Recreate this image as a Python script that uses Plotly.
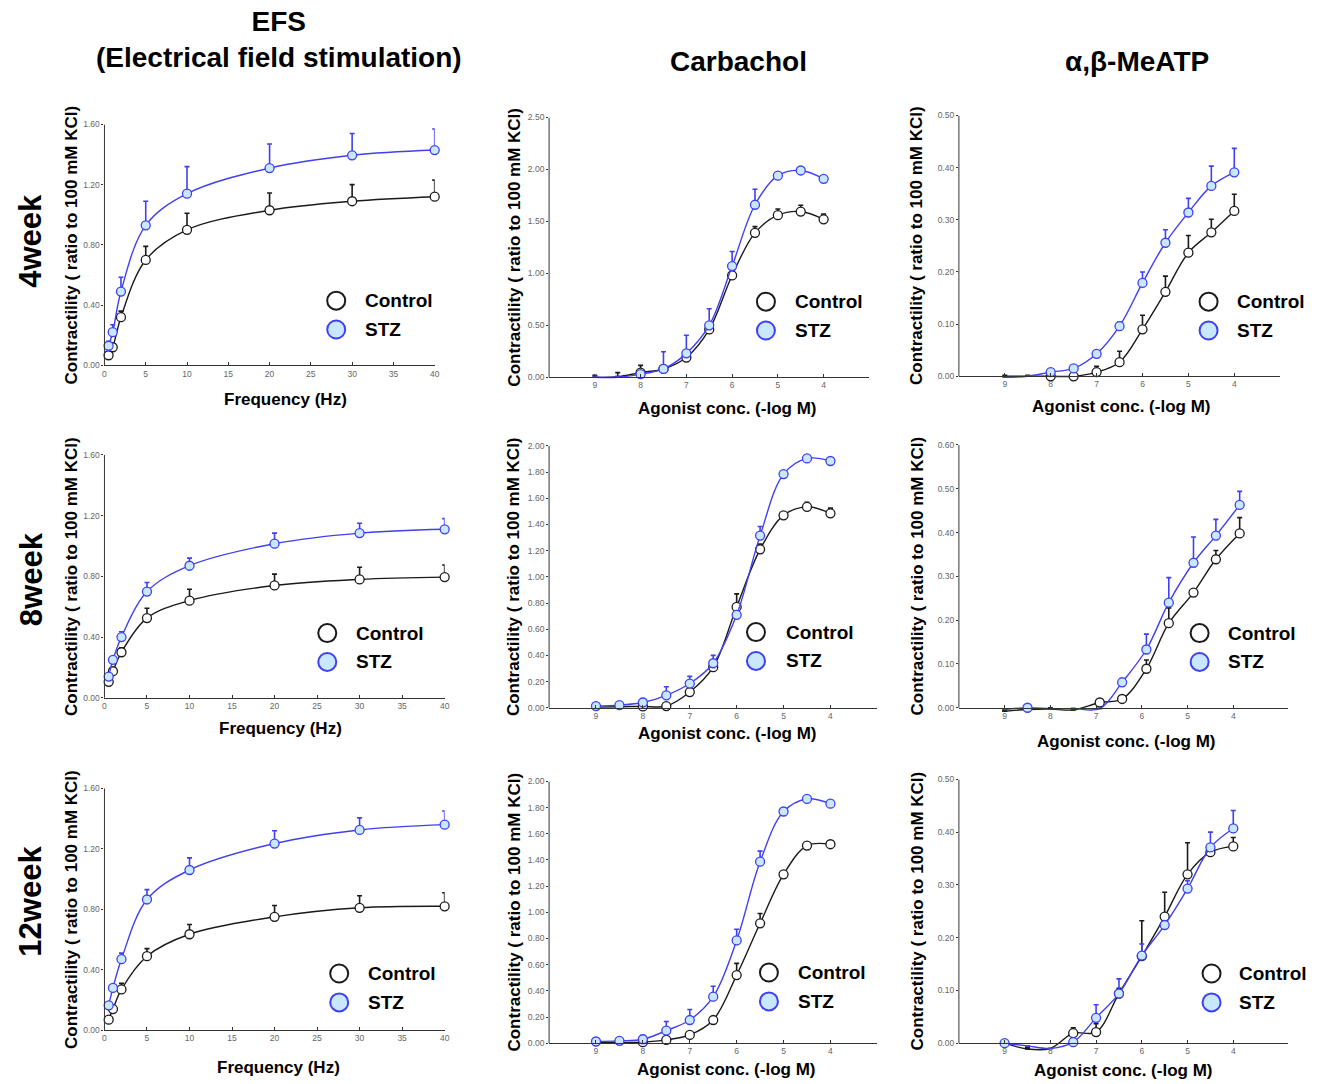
import plotly.graph_objects as go

W, H = 1320, 1084

# ---------------- data ----------------
efs_freq = [0.5, 1, 2, 5, 10, 20, 30, 40]
conc = [9, 8.5, 8, 7.5, 7, 6.5, 6, 5.5, 5, 4.5, 4]
conc_meatp_8w = [9, 8.5, 8, 7.5, 6.92, 6.43, 5.9, 5.41, 4.87, 4.38, 3.86]

efs_tick_vals = [0, 5, 10, 15, 20, 25, 30, 35, 40]
conc_tick_vals = [9, 8, 7, 6, 5, 4]

efs_4w_ctrl = [0.067, 0.12, 0.32, 0.70, 0.90, 1.03, 1.09, 1.12]
efs_4w_ctrl_err = [0.01, 0.02, 0.04, 0.09, 0.11, 0.115, 0.11, 0.11]
efs_4w_stz = [0.13, 0.22, 0.49, 0.93, 1.14, 1.31, 1.395, 1.43]
efs_4w_stz_err = [0.03, 0.05, 0.095, 0.16, 0.18, 0.16, 0.145, 0.14]

efs_8w_ctrl = [0.105, 0.175, 0.30, 0.525, 0.64, 0.74, 0.78, 0.795]
efs_8w_ctrl_err = [0.01, 0.02, 0.03, 0.065, 0.075, 0.075, 0.08, 0.08]
efs_8w_stz = [0.14, 0.25, 0.40, 0.70, 0.87, 1.015, 1.085, 1.11]
efs_8w_stz_err = [0.01, 0.02, 0.035, 0.06, 0.05, 0.07, 0.065, 0.07]

efs_12w_ctrl = [0.07, 0.14, 0.27, 0.49, 0.635, 0.75, 0.81, 0.82]
efs_12w_ctrl_err = [0.01, 0.02, 0.04, 0.05, 0.065, 0.075, 0.08, 0.09]
efs_12w_stz = [0.165, 0.28, 0.47, 0.865, 1.06, 1.235, 1.325, 1.36]
efs_12w_stz_err = [0.01, 0.02, 0.04, 0.065, 0.08, 0.085, 0.08, 0.09]

cch_4w_ctrl = [0.0, 0.005, 0.045, 0.08, 0.19, 0.46, 0.98, 1.39, 1.56, 1.595, 1.52]
cch_4w_ctrl_err = [0.02, 0.04, 0.07, 0.0, 0.01, 0.02, 0.03, 0.06, 0.06, 0.06, 0.05]
cch_4w_stz = [0.0, 0.0, 0.03, 0.08, 0.23, 0.50, 1.07, 1.66, 1.94, 1.99, 1.91]
cch_4w_stz_err = [0.01, 0.01, 0.02, 0.165, 0.175, 0.16, 0.14, 0.15, 0.0, 0.0, 0.0]

cch_8w_ctrl = [0.005, 0.008, 0.01, 0.013, 0.12, 0.31, 0.77, 1.21, 1.47, 1.535, 1.485]
cch_8w_ctrl_err = [0, 0, 0.01, 0.01, 0.01, 0.02, 0.10, 0.04, 0.02, 0.035, 0.04]
cch_8w_stz = [0.013, 0.02, 0.04, 0.095, 0.185, 0.34, 0.71, 1.315, 1.785, 1.905, 1.885]
cch_8w_stz_err = [0, 0, 0.03, 0.065, 0.055, 0.06, 0.0, 0.07, 0, 0, 0]

cch_12w_ctrl = [0.005, 0.006, 0.008, 0.025, 0.063, 0.177, 0.52, 0.916, 1.29, 1.51, 1.52]
cch_12w_ctrl_err = [0, 0, 0, 0, 0.01, 0.01, 0.09, 0.075, 0.01, 0.01, 0.01]
cch_12w_stz = [0.013, 0.018, 0.03, 0.096, 0.177, 0.355, 0.785, 1.387, 1.77, 1.866, 1.83]
cch_12w_stz_err = [0, 0, 0.03, 0.07, 0.08, 0.08, 0.085, 0.08, 0, 0, 0]

meatp_4w_ctrl = [0.0, 0.0, 0.0, 0.0, 0.008, 0.027, 0.09, 0.162, 0.237, 0.276, 0.317]
meatp_4w_ctrl_err = [0.002, 0.002, 0.0, 0.0, 0.011, 0.021, 0.027, 0.03, 0.033, 0.025, 0.032]
meatp_4w_stz = [-0.002, 0.0, 0.008, 0.015, 0.043, 0.096, 0.179, 0.256, 0.314, 0.365, 0.391]
meatp_4w_stz_err = [0, 0, 0, 0, 0, 0.008, 0.021, 0.025, 0.027, 0.038, 0.046]

meatp_8w_ctrl = [-0.008, -0.004, -0.003, -0.005, 0.012, 0.02, 0.089, 0.193, 0.263, 0.339, 0.398]
meatp_8w_ctrl_err = [0.003, 0.003, 0.003, 0.003, 0, 0, 0.02, 0.035, 0, 0.02, 0.036]
meatp_8w_stz = [-0.004, 0.0, -0.002, -0.002, -0.002, 0.058, 0.133, 0.24, 0.331, 0.393, 0.463]
meatp_8w_stz_err = [0, 0, 0, 0, 0, 0.009, 0.035, 0.057, 0.059, 0.037, 0.031]

meatp_12w_ctrl = [0.0, -0.011, -0.01, 0.019, 0.021, 0.094, 0.165, 0.24, 0.32, 0.362, 0.373]
meatp_12w_ctrl_err = [0, 0.003, 0, 0.01, 0.016, 0.01, 0.067, 0.046, 0.06, 0.01, 0.017]
meatp_12w_stz = [0.0, -0.005, -0.01, 0.002, 0.048, 0.094, 0.166, 0.224, 0.293, 0.371, 0.407]
meatp_12w_stz_err = [0, 0, 0, 0, 0.025, 0.028, 0.022, 0, 0.015, 0.029, 0.034]

col_titles = ["EFS<br>(Electrical field stimulation)", "Carbachol", "α,β-MeATP"]
row_titles = ["4week", "8week", "12week"]
y_title = "Contractility ( ratio to 100 mM KCl)"
x_titles = ["Frequency (Hz)", "Agonist conc. (-log M)", "Agonist conc. (-log M)"]
legend_names = ["Control", "STZ"]

# ---------------- layout geometry (pixels) ----------------
geom = [
    (103, 435, 120, 362, [0, 40], [0, 1.6], 0.4, (285, 396), (336, 297), 363),
    (550, 872, 113, 374, [10, 3], [0, 2.5], 0.5, (729, 405), (768, 298), 795),
    (962, 1285, 111, 373, [10, 3], [0, 0.5], 0.1, (1125, 403), (1213, 298), 1240),
    (103, 445, 452, 696, [0, 40], [0, 1.6], 0.4, (280, 727), (327, 631), 354),
    (550, 880, 443, 706, [10, 3], [0, 2.0], 0.2, (729, 732), (758, 630), 786),
    (962, 1293, 442, 706, [10, 2.8], [0, 0.6], 0.1, (1130, 740), (1204, 631), 1231),
    (103, 445, 787, 1030, [0, 40], [0, 1.6], 0.4, (278, 1067), (339, 973), 366),
    (550, 880, 780, 1043, [10, 3], [0, 2.0], 0.2, (728, 1069), (771, 972), 798),
    (962, 1293, 778, 1043, [10, 2.8], [0, 0.5], 0.1, (1127, 1070), (1216, 973), 1242),
]
PAD = 9  # px of room below the zero line so dipping curves stay visible

panel_data = [
    (efs_freq, efs_4w_ctrl, efs_4w_ctrl_err, efs_4w_stz, efs_4w_stz_err, [], []),
    (conc, cch_4w_ctrl, cch_4w_ctrl_err, cch_4w_stz, cch_4w_stz_err, [0, 1], [0, 1]),
    (conc, meatp_4w_ctrl, meatp_4w_ctrl_err, meatp_4w_stz, meatp_4w_stz_err, [0, 1], [0, 1]),
    (efs_freq, efs_8w_ctrl, efs_8w_ctrl_err, efs_8w_stz, efs_8w_stz_err, [], []),
    (conc, cch_8w_ctrl, cch_8w_ctrl_err, cch_8w_stz, cch_8w_stz_err, [0, 1], []),
    (conc_meatp_8w, meatp_8w_ctrl, meatp_8w_ctrl_err, meatp_8w_stz, meatp_8w_stz_err, [0, 1, 2, 3], [0, 2, 3, 4]),
    (efs_freq, efs_12w_ctrl, efs_12w_ctrl_err, efs_12w_stz, efs_12w_stz_err, [], []),
    (conc, cch_12w_ctrl, cch_12w_ctrl_err, cch_12w_stz, cch_12w_stz_err, [0, 1], []),
    (conc, meatp_12w_ctrl, meatp_12w_ctrl_err, meatp_12w_stz, meatp_12w_stz_err, [0, 1, 2], [1, 2]),
]

BLACK = "#1a1a1a"
BLUE = "#3f3ff5"
LIGHT = "#c9e8ff"
AXIS = "#333"
FONT = "Liberation Sans, Arial, sans-serif"

fig = go.Figure()
layout = dict(
    width=W, height=H, margin=dict(l=0, r=0, t=0, b=0),
    paper_bgcolor="white", plot_bgcolor="white", showlegend=False,
    font=dict(family=FONT),
)
annotations = []
shapes = []

for i, (g, d) in enumerate(zip(geom, panel_data)):
    left, right, top, bottom, xr, yr, ydt, xt, lc, ltx = g
    x, c, ce, s, se, hide_c, hide_s = d
    k = "" if i == 0 else str(i + 1)
    xa, ya = "x" + k, "y" + k
    col = i % 3
    tickvals = efs_tick_vals if col == 0 else conc_tick_vals

    unit_px = (bottom - top) / (yr[1] - yr[0])
    ylow = yr[0] - PAD / unit_px

    layout["xaxis" + k] = dict(
        domain=[left / W, right / W], range=xr, anchor="free", position=1 - bottom / H,
        showline=True, linecolor=AXIS, linewidth=1, showgrid=False, zeroline=False,
        tickvals=tickvals, ticks="inside", ticklen=3, tickcolor=AXIS,
        tickfont=dict(size=8.5, color="#666", family=FONT),
    )
    nt = int(round(yr[1] / ydt))
    yt = [round(j * ydt, 3) for j in range(nt + 1)]
    layout["yaxis" + k] = dict(
        domain=[1 - (bottom + PAD) / H, 1 - top / H], range=[ylow, yr[1]], anchor=xa,
        showline=False, showgrid=False, zeroline=False,
        tickvals=yt, ticktext=[f"{v:.2f}" for v in yt],
        ticks="outside", ticklen=2, tickcolor=AXIS,
        tickfont=dict(size=8.5, color="#666", family=FONT),
    )
    shapes.append(dict(
        type="line", xref=xa + " domain", yref=ya, x0=0, x1=0, y0=yr[0], y1=yr[1],
        line=dict(color=AXIS, width=1), layer="above",
    ))

    for vals, errs, hide, lcol, fill in [(c, ce, hide_c, BLACK, "white"), (s, se, hide_s, BLUE, LIGHT)]:
        fig.add_trace(go.Scatter(
            x=x, y=vals, mode="lines", xaxis=xa, yaxis=ya,
            line=dict(color=lcol, width=1.4, shape="spline", smoothing=1.0),
            hoverinfo="skip",
        ))
        fig.add_trace(go.Scatter(
            x=x, y=vals, mode="markers", xaxis=xa, yaxis=ya, cliponaxis=False,
            marker=dict(size=9, color=fill, line=dict(color=lcol, width=1.3),
                        opacity=[0 if j in hide else 1 for j in range(len(vals))]),
            error_y=dict(type="data", symmetric=False, array=errs,
                         arrayminus=[0] * len(errs), color=lcol, thickness=1.6, width=2.5),
        ))

    annotations.append(dict(
        x=[70, 515, 920][col] / W, y=1 - (top + bottom) / 2 / H, xref="paper", yref="paper",
        text=y_title, textangle=-90, showarrow=False,
        font=dict(size=17, color="black", family=FONT, weight="bold"),
        xanchor="center", yanchor="middle",
    ))
    annotations.append(dict(
        x=xt[0] / W, y=1 - xt[1] / H, xref="paper", yref="paper",
        text=x_titles[col], showarrow=False,
        font=dict(size=17, color="black", family=FONT, weight="bold"),
        xanchor="center", yanchor="middle",
    ))
    for j, (name, lcol, fill) in enumerate(zip(legend_names, [BLACK, BLUE], ["white", LIGHT])):
        cy = lc[1] + j * 29
        shapes.append(dict(
            type="circle", xref="paper", yref="paper",
            xsizemode="pixel", ysizemode="pixel",
            xanchor=lc[0] / W, yanchor=1 - cy / H,
            x0=-9, x1=9, y0=-9, y1=9,
            line=dict(color=lcol, width=2), fillcolor=fill,
        ))
        annotations.append(dict(
            x=ltx / W, y=1 - cy / H, xref="paper", yref="paper",
            text=name, showarrow=False, xanchor="left", yanchor="middle",
            font=dict(size=19, color="black", family=FONT, weight="bold"),
        ))

for cx, cy, t in [(278, 35, col_titles[0]), (740, 57, col_titles[1]), (1141, 57, col_titles[2])]:
    annotations.append(dict(
        x=cx / W, y=1 - cy / H, xref="paper", yref="paper", text=t, showarrow=False,
        xanchor="center", yanchor="middle",
        font=dict(size=28, color="black", family=FONT, weight="bold"),
    ))
for cy, t in zip([237, 577, 900], row_titles):
    annotations.append(dict(
        x=29 / W, y=1 - cy / H, xref="paper", yref="paper", text=t, showarrow=False,
        textangle=-90, xanchor="center", yanchor="middle",
        font=dict(size=31, color="black", family=FONT, weight="bold"),
    ))

layout["annotations"] = annotations
layout["shapes"] = shapes
fig.update_layout(**layout)
fig.write_html("out.html", config={"displayModeBar": False},
               post_script="document.body.style.margin='0';document.body.style.padding='0';")
